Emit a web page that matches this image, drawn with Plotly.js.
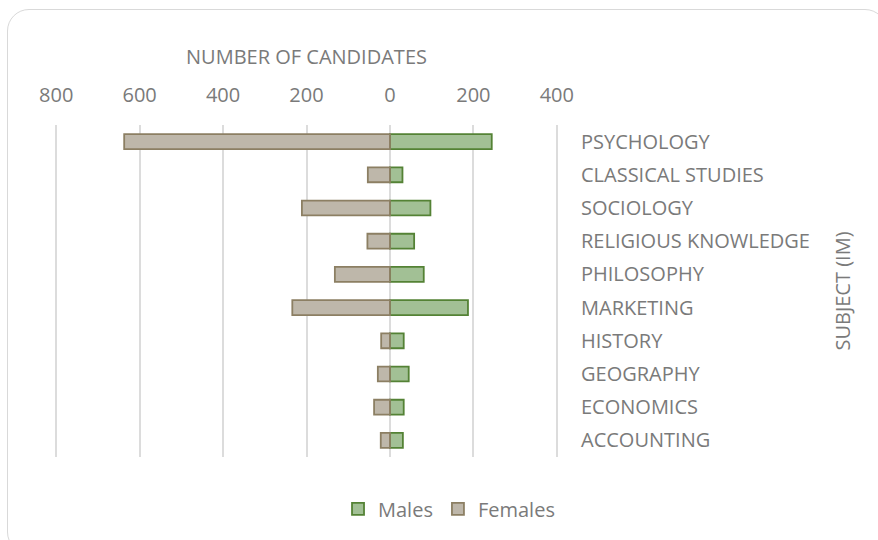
<!DOCTYPE html>
<html>
<head>
<meta charset="utf-8">
<script src="https://cdn.plot.ly/plotly-3.0.1.min.js"></script>
<style>
  html, body { margin: 0; padding: 0; background: #ffffff; }
  #wrap { position: relative; width: 878px; height: 540px; overflow: hidden; }
  #chart { position: absolute; left: 0; top: 0; width: 878px; height: 540px; }
  #frame { position: absolute; left: 7px; top: 9px; width: 880px; height: 545px;
           border: 1.5px solid #d9d9d9; border-radius: 22px; pointer-events: none; box-sizing: border-box; }
</style>
</head>
<body>
<div id="wrap">
  <div id="chart"></div>
  <div id="frame"></div>
</div>
<script>
const subjects = ["PSYCHOLOGY", "CLASSICAL STUDIES", "SOCIOLOGY", "RELIGIOUS KNOWLEDGE", "PHILOSOPHY",
                  "MARKETING", "HISTORY", "GEOGRAPHY", "ECONOMICS", "ACCOUNTING"];
const males   = [244, 30, 97, 58, 81, 187, 33, 45, 33, 31];
const females = [637, 53, 211, 54, 132, 234, 21, 29, 38, 22];
const tickValues = [-800, -600, -400, -200, 0, 200, 400];
const tickLabels = ["800", "600", "400", "200", "0", "200", "400"];

const FONT = "'Open Sans', Lato, sans-serif";
const GREY = "#7a7a7a";
const FS = 20;

const traces = [
  {
    type: "bar", orientation: "h", name: "Males",
    y: subjects, x: males,
    marker: { color: "#a2c095", line: { color: "#548235", width: 1.8 } }
  },
  {
    type: "bar", orientation: "h", name: "Females",
    y: subjects, x: females.map(v => -v),
    marker: { color: "#beb7aa", line: { color: "#8c7f63", width: 1.8 } }
  }
];

const layout = {
  width: 878, height: 540,
  margin: { l: 52, r: 317, t: 125, b: 81 },
  paper_bgcolor: "rgba(0,0,0,0)", plot_bgcolor: "rgba(0,0,0,0)",
  font: { family: FONT, color: GREY, size: FS },
  barmode: "relative",
  bargap: 0.55,
  xaxis: {
    side: "top", range: [-810, 410],
    tickvals: tickValues, ticktext: tickLabels,
    showgrid: true, gridcolor: "#dcdcdc", gridwidth: 2,
    zeroline: false, showline: false, ticks: "",
    ticklabelstandoff: 18,
    tickfont: { family: FONT, size: FS, color: GREY },
    title: { text: "NUMBER OF CANDIDATES", font: { family: FONT, size: FS, color: GREY }, standoff: 11 },
    fixedrange: true
  },
  yaxis: {
    side: "right", type: "category", autorange: "reversed",
    showgrid: false, zeroline: false, showline: false, ticks: "",
    ticklabelstandoff: 19,
    tickfont: { family: FONT, size: FS, color: GREY },
    title: { text: "SUBJECT (IM)", font: { family: FONT, size: FS, color: GREY }, standoff: 27 },
    fixedrange: true
  },
  showlegend: true,
  legend: {
    orientation: "h", traceorder: "normal",
    x: 0.78, xanchor: "center", y: -0.156, yanchor: "middle",
    font: { family: FONT, size: FS, color: GREY },
    itemwidth: 30
  }
};

Plotly.newPlot("chart", traces, layout, { displayModeBar: false, staticPlot: true });
</script>
</body>
</html>
